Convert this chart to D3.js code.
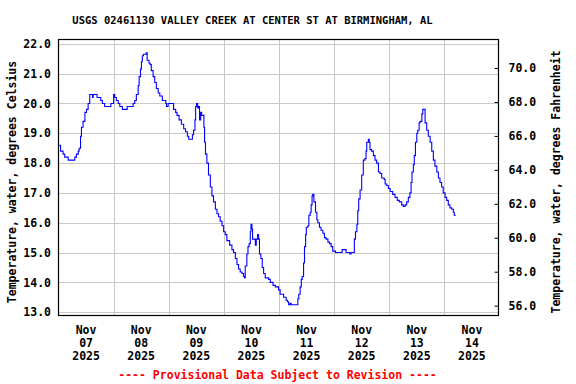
<!DOCTYPE html>
<html>
<head>
<meta charset="utf-8">
<script src="https://cdn.jsdelivr.net/npm/d3@7"></script>
<style>
  body { margin: 0; background: #fff; }
  text { font-family: "DejaVu Sans Mono", monospace; font-weight: bold; fill: #000; }
</style>
</head>
<body>
<script>
const width = 576,
  height = 384;

// hours since Nov 07 2025 00:00, and water temperature (deg C)
const hours = [
  0.3, 0.9, 2.0, 2.7, 4.2, 6.7, 7.1, 7.8, 8.6, 9.0, 9.6, 10.0, 10.7, 11.5, 12.2, 12.9,
  13.6, 14.3, 14.8, 15.1, 16.2, 16.8, 18.0, 18.4, 19.1, 20.1, 22.3, 22.8, 23.8, 24.0,
  24.5, 25.2, 26.0, 26.7, 27.8, 29.3, 29.9, 31.7, 32.5, 33.2, 33.9, 34.7, 35.1, 35.7,
  36.1, 36.5, 37.0, 37.9, 38.2, 38.6, 39.4, 39.9, 40.4, 41.2, 41.9, 42.6, 43.4, 44.1,
  45.2, 46.7, 47.0, 47.7, 49.6, 50.1, 51.0, 51.6, 52.5, 53.5, 54.5, 55.3, 56.1, 56.7,
  57.8, 58.3, 58.8, 59.4, 59.7, 60.1, 60.6, 61.0, 61.4, 61.9, 62.3, 62.9, 63.3, 63.6,
  64.0, 64.6, 65.3, 66.1, 66.8, 67.5, 68.3, 69.0, 69.7, 70.4, 71.2, 71.9, 72.6, 73.3,
  74.5, 75.5, 76.2, 77.0, 77.7, 78.4, 79.1, 79.9, 80.6, 81.0, 81.3, 82.0, 82.5, 83.0,
  83.5, 83.8, 84.2, 84.5, 85.2, 85.7, 86.1, 86.7, 87.1, 87.5, 88.1, 88.7, 89.3, 90.0,
  91.5, 92.2, 93.4, 94.4, 95.8, 96.5, 98.0, 99.1, 99.7, 100.2, 100.8, 101.3, 103.8,
  104.2, 104.6, 105.2, 105.7, 106.1, 106.7, 107.1, 107.6, 107.9, 108.6, 109.0, 109.6,
  110.0, 110.4, 110.7, 111.2, 111.9, 112.5, 112.9, 113.6, 114.3, 115.1, 115.8, 116.5,
  117.3, 118.0, 118.7, 119.4, 120.6, 123.0, 123.5, 124.9, 125.2, 126.4, 126.8, 127.4,
  128.4, 128.8, 129.3, 129.9, 130.3, 130.7, 131.3, 132.0, 132.7, 133.4, 133.9, 134.2,
  134.9, 135.3, 135.6, 136.3, 137.1, 137.8, 138.5, 139.3, 140.0, 140.7, 141.8, 142.2,
  142.9, 143.6, 144.4, 145.5, 146.5, 147.5, 148.4, 149.4, 150.1, 150.9, 151.6, 152.3,
  153.0, 153.5, 153.9, 154.5, 154.9, 155.4, 156.0, 156.4, 157.0, 157.4, 158.2, 158.6,
  159.2, 159.6, 160.3, 161.0, 161.8, 162.5, 163.2, 163.9, 164.7, 165.4, 166.1, 166.8,
  167.5, 168.3, 169.0, 169.7, 170.4, 171.2, 171.9, 172.3, 173.0
];
const tempC = [
  18.6, 18.4, 18.3, 18.2, 18.1, 18.1, 18.2, 18.3, 18.4, 18.5, 18.9, 19.2, 19.4, 19.7, 19.8, 20.0,
  20.3, 20.3, 20.2, 20.3, 20.3, 20.2, 20.2, 20.1, 20.0, 19.9, 19.9, 20.0, 20.0, 20.3,
  20.2, 20.1, 20.0, 19.9, 19.8, 19.8, 19.9, 19.9, 20.0, 20.1, 20.3, 20.6, 20.9, 21.15,
  21.4, 21.6, 21.65, 21.65, 21.7, 21.45, 21.35, 21.3, 21.1, 20.9, 20.7, 20.5, 20.35, 20.25,
  20.1, 20.0, 19.9, 20.0, 20.0, 19.8, 19.7, 19.6, 19.45, 19.3, 19.15, 19.05, 18.9, 18.8,
  18.8, 18.95, 19.1, 19.45, 19.9, 20.0, 19.85, 19.9, 19.45, 19.7, 19.6, 19.6, 19.2, 18.7,
  18.3, 18.0, 17.6, 17.2, 16.9, 16.7, 16.45, 16.3, 16.2, 16.05, 15.9, 15.7, 15.6, 15.4,
  15.25, 15.1, 15.0, 14.8, 14.6, 14.45, 14.35, 14.3, 14.2, 14.15, 14.55, 14.95, 15.2, 15.3,
  15.7, 15.95, 15.8, 15.45, 15.45, 15.25, 15.45, 15.6, 15.45, 14.95, 14.8, 14.5, 14.3, 14.15,
  14.1, 14.0, 13.9, 13.85, 13.75, 13.6, 13.5, 13.4, 13.35, 13.25, 13.3, 13.25, 13.25,
  13.45, 13.6, 13.85, 14.1, 14.2, 14.65, 15.2, 15.6, 15.85, 15.9, 16.25, 16.35,
  16.6, 16.9, 16.95, 16.7, 16.35, 16.1, 16.0, 15.85, 15.75, 15.65, 15.5, 15.45,
  15.35, 15.3, 15.2, 15.05, 15.0, 15.0, 15.1, 15.1, 15.0, 15.0, 14.95, 15.0,
  15.0, 15.45, 15.7, 15.95, 16.4, 16.8, 17.1, 17.6, 18.1, 18.15, 18.4, 18.7,
  18.8, 18.7, 18.45, 18.4, 18.25, 18.1, 18.0, 17.7, 17.65, 17.5, 17.45, 17.3,
  17.25, 17.15, 17.05, 16.95, 16.85, 16.75, 16.7, 16.6, 16.55, 16.6, 16.7, 16.85,
  17.0, 17.35, 17.7, 17.95, 18.25, 18.7, 19.0, 19.1, 19.35, 19.4, 19.65, 19.8,
  19.8, 19.35, 19.1, 18.9, 18.7, 18.4, 18.1, 17.9, 17.7, 17.5, 17.35, 17.2,
  17.0, 16.85, 16.75, 16.6, 16.5, 16.45, 16.35, 16.25, 16.25
];

const celsiusTicks = [13, 14, 15, 16, 17, 18, 19, 20, 21, 22];
const fahrenheitTicks = [56, 58, 60, 62, 64, 66, 68, 70];
const dayLabels = ["07", "08", "09", "10", "11", "12", "13", "14"];

const title = "USGS 02461130 VALLEY CREEK AT CENTER ST AT BIRMINGHAM, AL";
const leftLabel = "Temperature, water, degrees Celsius";
const rightLabel = "Temperature, water, degrees Fahrenheit";
const footer = "---- Provisional Data Subject to Revision ----";

const start = new Date(2025, 10, 7);
const data = hours.map((h, i) => ({
  t: new Date(start.getTime() + h * 3600e3),
  v: tempC[i]
}));

const plot = { left: 58.5, right: 498.5, top: 39.5, bottom: 315.5 };

const x = d3
  .scaleTime()
  .domain([start, new Date(2025, 10, 15)])
  .range([plot.left, 499.5]);

const y = d3.scaleLinear().domain([12.89, 22.144]).range([plot.bottom, plot.top]);
// right axis as drawn in the reference (slightly off a pure conversion)
const yF = d3.scaleLinear().domain([55.42, 71.68]).range([plot.bottom, plot.top]);

const svg = d3
  .select("body")
  .append("svg")
  .attr("width", width)
  .attr("height", height);

// grid
const days = d3.range(1, 8).map(i => d3.timeDay.offset(start, i));
svg
  .append("g")
  .selectAll("line")
  .data(days)
  .join("line")
  .attr("x1", d => Math.round(x(d)) + 0.5)
  .attr("x2", d => Math.round(x(d)) + 0.5)
  .attr("y1", plot.top)
  .attr("y2", plot.bottom)
  .attr("stroke", "#c8c8c8")
  .attr("stroke-width", 1);

svg
  .append("g")
  .selectAll("line")
  .data(celsiusTicks)
  .join("line")
  .attr("x1", plot.left)
  .attr("x2", plot.right)
  .attr("y1", d => Math.round(y(d)) + 0.5)
  .attr("y2", d => Math.round(y(d)) + 0.5)
  .attr("stroke", "#c8c8c8")
  .attr("stroke-width", 1);

// data line
svg
  .append("path")
  .datum(data)
  .attr("fill", "none")
  .attr("stroke", "#0000ff")
  .attr("stroke-width", 1.1)
  .attr("d", d3.line().x(d => x(d.t)).y(d => y(d.v)).curve(d3.curveStepAfter));

// frame
svg
  .append("rect")
  .attr("x", plot.left)
  .attr("y", plot.top)
  .attr("width", plot.right - plot.left)
  .attr("height", plot.bottom - plot.top)
  .attr("fill", "none")
  .attr("stroke", "#000")
  .attr("stroke-width", 1.2);

// left axis labels
svg
  .append("g")
  .selectAll("text")
  .data(celsiusTicks)
  .join("text")
  .attr("x", 51)
  .attr("y", d => y(d))
  .attr("dy", "0.36em")
  .attr("text-anchor", "end")
  .style("font-size", "11.5px")
  .text(d => d.toFixed(1));

// right axis: inward ticks + labels
const rightAxis = svg
  .append("g")
  .attr("transform", `translate(${plot.right},0)`)
  .call(
    d3
      .axisRight(yF)
      .tickValues(fahrenheitTicks)
      .tickSize(-4)
      .tickPadding(10)
      .tickFormat(d => d.toFixed(1))
  );
rightAxis.select(".domain").remove();
rightAxis.selectAll("text").style("font-size", "11.5px").attr("fill", "#000");
rightAxis.selectAll("line").attr("stroke", "#000");

// x labels centered at noon
const xl = svg
  .append("g")
  .selectAll("text")
  .data(dayLabels)
  .join("text")
  .attr("text-anchor", "middle")
  .style("font-size", "11.5px")
  .attr("transform", (d, i) => `translate(${x(d3.timeHour.offset(start, 24 * i + 12))},0)`);
xl.append("tspan").attr("x", 0).attr("y", 334).text("Nov");
xl.append("tspan").attr("x", 0).attr("y", 347).text(d => d);
xl.append("tspan").attr("x", 0).attr("y", 359.5).text("2025");

// titles
svg
  .append("text")
  .attr("x", 252.5)
  .attr("y", 24)
  .attr("text-anchor", "middle")
  .style("font-size", "10.5px")
  .text(title);

svg
  .append("text")
  .attr("transform", "translate(16,182) rotate(-90)")
  .attr("text-anchor", "middle")
  .style("font-size", "11.5px")
  .text(leftLabel);

svg
  .append("text")
  .attr("transform", "translate(560,182) rotate(-90)")
  .attr("text-anchor", "middle")
  .style("font-size", "11.5px")
  .text(rightLabel);

svg
  .append("text")
  .attr("x", 277.5)
  .attr("y", 378.5)
  .attr("text-anchor", "middle")
  .style("font-size", "11.5px")
  .style("fill", "#ff0000")
  .text(footer);
</script>
</body>
</html>
